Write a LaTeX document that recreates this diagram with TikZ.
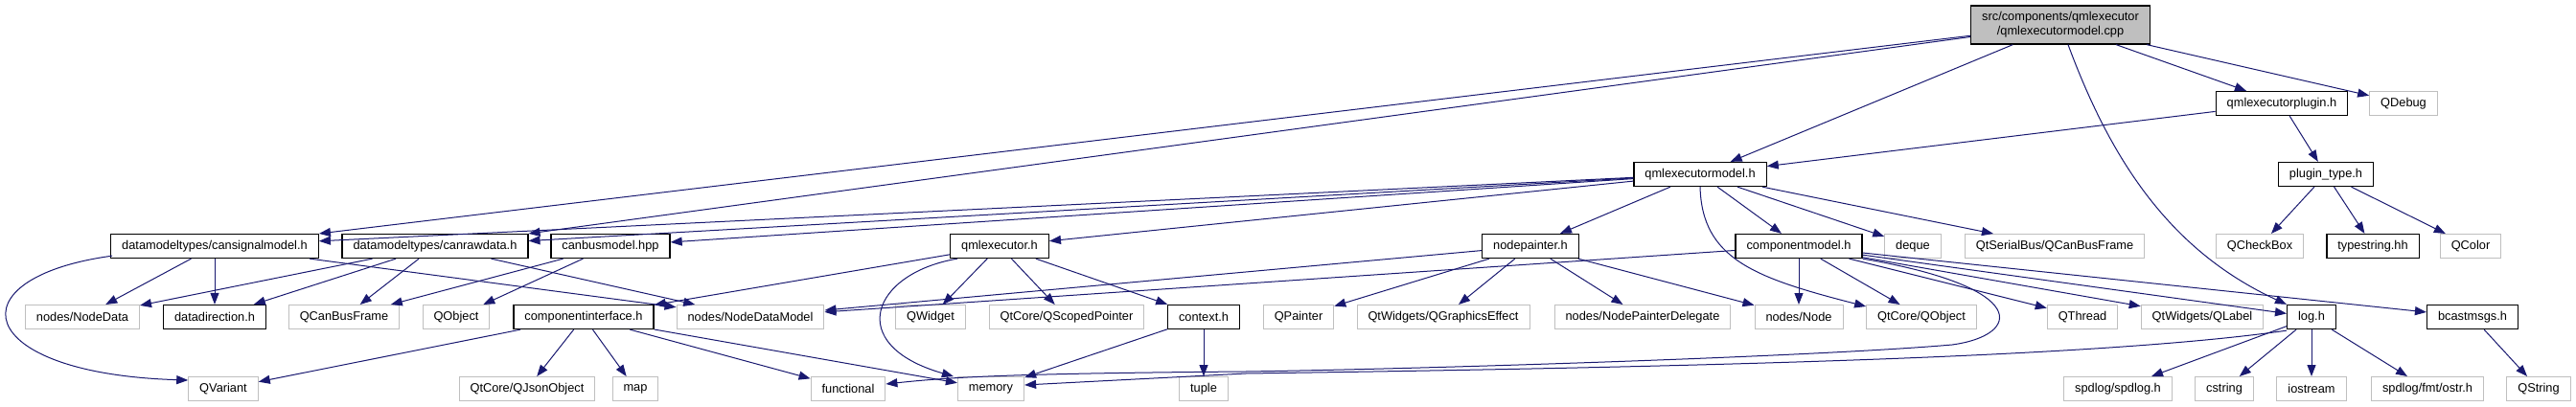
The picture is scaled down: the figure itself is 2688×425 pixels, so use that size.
\documentclass[tikz,border=0pt]{standalone}
\usepackage{fontspec}
\setmainfont{Liberation Sans}
\usetikzlibrary{arrows.meta}
\definecolor{edgeblue}{HTML}{191970}
\definecolor{boxgray}{HTML}{BFBFBF}

\begin{document}
\begin{tikzpicture}[x=1pt, y=-1pt, >={Triangle[length=12pt,width=9pt]},
	font=\fontsize{12.8pt}{15pt}\selectfont,
	box/.style={fill=white, minimum height=25pt, inner xsep=11.5pt, inner ysep=2pt},
	file/.style={box, draw=black, line width=1.3pt},
	sys/.style={box, draw=boxgray, line width=1pt},
	dep/.style={->, draw=edgeblue, line width=1pt}]
	\useasboundingbox (0,0) rectangle (2688,425);
	% top of the graph
	\node[file, fill=boxgray, align=center, minimum height=40pt] (root) at (2150,26) {src/components/qmlexecutor\\/qmlexecutormodel.cpp};
	\node[file] (plugin) at (2381,108) {qmlexecutorplugin.h}; \node[sys] (qdebug) at (2508,108) {QDebug};
	\node[file] (ptype) at (2427,182) {plugin\_type.h}; \node[file] (qem) at (1774,182) {qmlexecutormodel.h};
	% second row
	\node[file] (csm) at (224,257) {datamodeltypes/cansignalmodel.h};
	\node[file] (crd) at (454,257) {datamodeltypes/canrawdata.h};
	\node[file] (cbm) at (637,257) {canbusmodel.hpp};
	\node[file] (qex) at (1043,257) {qmlexecutor.h};
	\node[file] (npainter) at (1597,257) {nodepainter.h};
	\node[file] (cmodel) at (1877,257) {componentmodel.h};
	\node[sys] (deque) at (1996,257) {deque};
	\node[sys] (qsbframe) at (2144,257) {QtSerialBus/QCanBusFrame};
	\node[sys] (qcheckbox) at (2358,257) {QCheckBox};
	\node[file] (tstring) at (2476,257) {typestring.hh};
	\node[sys] (qcolor) at (2578,257) {QColor};
	% third row
	\node[sys] (ndata) at (86,331) {nodes/NodeData};
	\node[file] (ddir) at (224,331) {datadirection.h};
	\node[sys] (qcbframe) at (359,331) {QCanBusFrame};
	\node[sys] (qobject) at (476,331) {QObject};
	\node[file] (cinterface) at (609,331) {componentinterface.h};
	\node[sys] (ndmodel) at (783,331) {nodes/NodeDataModel};
	\node[sys] (qwidget) at (971,331) {QWidget};
	\node[sys] (qsptr) at (1113,331) {QtCore/QScopedPointer};
	\node[file] (context) at (1256,331) {context.h};
	\node[sys] (qpainter) at (1355,331) {QPainter};
	\node[sys] (qgeffect) at (1506,331) {QtWidgets/QGraphicsEffect};
	\node[sys] (npdelegate) at (1714,331) {nodes/NodePainterDelegate};
	\node[sys] (nnode) at (1877,331) {nodes/Node};
	\node[sys] (qcqobject) at (2005,331) {QtCore/QObject};
	\node[sys] (qthread) at (2173,331) {QThread};
	\node[sys] (qlabel) at (2298,331) {QtWidgets/QLabel};
	\node[file] (logh) at (2412,331) {log.h};
	\node[file] (bcast) at (2580,331) {bcastmsgs.h};
	% bottom row
	\node[sys] (qvariant) at (233,406) {QVariant};
	\node[sys] (qjson) at (550,406) {QtCore/QJsonObject};
	\node[sys] (map) at (663,406) {map};
	\node[sys] (functional) at (885,406) {functional};
	\node[sys] (memory) at (1034,406) {memory};
	\node[sys] (tuple) at (1256,406) {tuple};
	\node[sys] (spdlog) at (2210,406) {spdlog/spdlog.h};
	\node[sys] (cstring) at (2321,406) {cstring};
	\node[sys] (iostream) at (2412,406) {iostream};
	\node[sys] (ostr) at (2533,406) {spdlog/fmt/ostr.h};
	\node[sys] (qstring) at (2649,406) {QString};
	% includes
	\draw[dep] (root) -- (qem); \draw[dep] (root) -- (plugin); \draw[dep] (root) -- (qdebug);
	\draw[dep] (root) -- (csm); \draw[dep] (root) -- (crd);
	\draw[dep] ([xshift=8pt]root.south) .. controls (2200,160) and (2260,260) .. (logh.north west);
	\draw[dep] (plugin) -- (qem); \draw[dep] (plugin) -- (ptype);
	\draw[dep] (ptype) -- (qcheckbox); \draw[dep] (ptype) -- (tstring); \draw[dep] (ptype) -- (qcolor);
	\draw[dep] (qem) -- (csm); \draw[dep] (qem) -- (crd); \draw[dep] (qem) -- (cbm); \draw[dep] (qem) -- (qex);
	\draw[dep] (qem) -- (npainter); \draw[dep] (qem) -- (cmodel); \draw[dep] (qem) -- (deque); \draw[dep] (qem) -- (qsbframe);
	\draw[dep] (qem.south) .. controls (1776,270) and (1830,290) .. ([yshift=-2pt]qcqobject.north west);
	\draw[dep] (csm) -- (ndata); \draw[dep] (csm) -- (ddir); \draw[dep] (csm) -- (ndmodel);
	\draw[dep] ([xshift=2pt,yshift=3pt]csm.south west) .. controls (-50,290) and (-30,390) .. ([yshift=-4pt]qvariant.north west);
	\draw[dep] (crd) -- (ndata); \draw[dep] (crd) -- (ddir); \draw[dep] (crd) -- (qcbframe); \draw[dep] (crd) -- (ndmodel);
	\draw[dep] (cbm) -- (qcbframe); \draw[dep] (cbm) -- (qobject);
	\draw[dep] (qex) -- (cinterface); \draw[dep] (qex) -- (qwidget); \draw[dep] (qex) -- (qsptr); \draw[dep] (qex) -- (context);
	\draw[dep] ([xshift=8pt]qex.south west) .. controls (910,285) and (880,360) .. ([xshift=-4pt]memory.north west);
	\draw[dep] (npainter) -- (ndmodel); \draw[dep] (npainter) -- (qpainter); \draw[dep] (npainter) -- (qgeffect);
	\draw[dep] (npainter) -- (npdelegate); \draw[dep] (npainter) -- (nnode);
	\draw[dep] (cmodel) -- (ndmodel); \draw[dep] (cmodel) -- (nnode); \draw[dep] (cmodel) -- (qcqobject); \draw[dep] (cmodel) -- (qthread);
	\draw[dep] (cmodel) -- (qlabel); \draw[dep] (cmodel) -- (logh); \draw[dep] (cmodel) -- (bcast);
	\draw[dep] (cmodel.south east) .. controls (2120,300) and (2110,350) .. (2037,360) .. controls (1900,372) and (1500,385) .. (1300,388) .. controls (1050,390) and (990,394) .. ([yshift=5pt]functional.east);
	\draw[dep] (cinterface) -- (qvariant); \draw[dep] (cinterface) -- (qjson); \draw[dep] (cinterface) -- (map);
	\draw[dep] (cinterface) -- (functional); \draw[dep] (cinterface) -- (memory);
	\draw[dep] (context) -- (memory); \draw[dep] (context) -- (tuple);
	\draw[dep] (logh) -- (spdlog); \draw[dep] (logh) -- (cstring); \draw[dep] (logh) -- (iostream); \draw[dep] (logh) -- (ostr);
	\draw[dep] ([yshift=-1pt]logh.south west) .. controls (2200,372) and (1800,383) .. (1300,390) -- ([yshift=4pt]memory.east);
	\draw[dep] (bcast) -- (qstring);
\end{tikzpicture}
\end{document}
